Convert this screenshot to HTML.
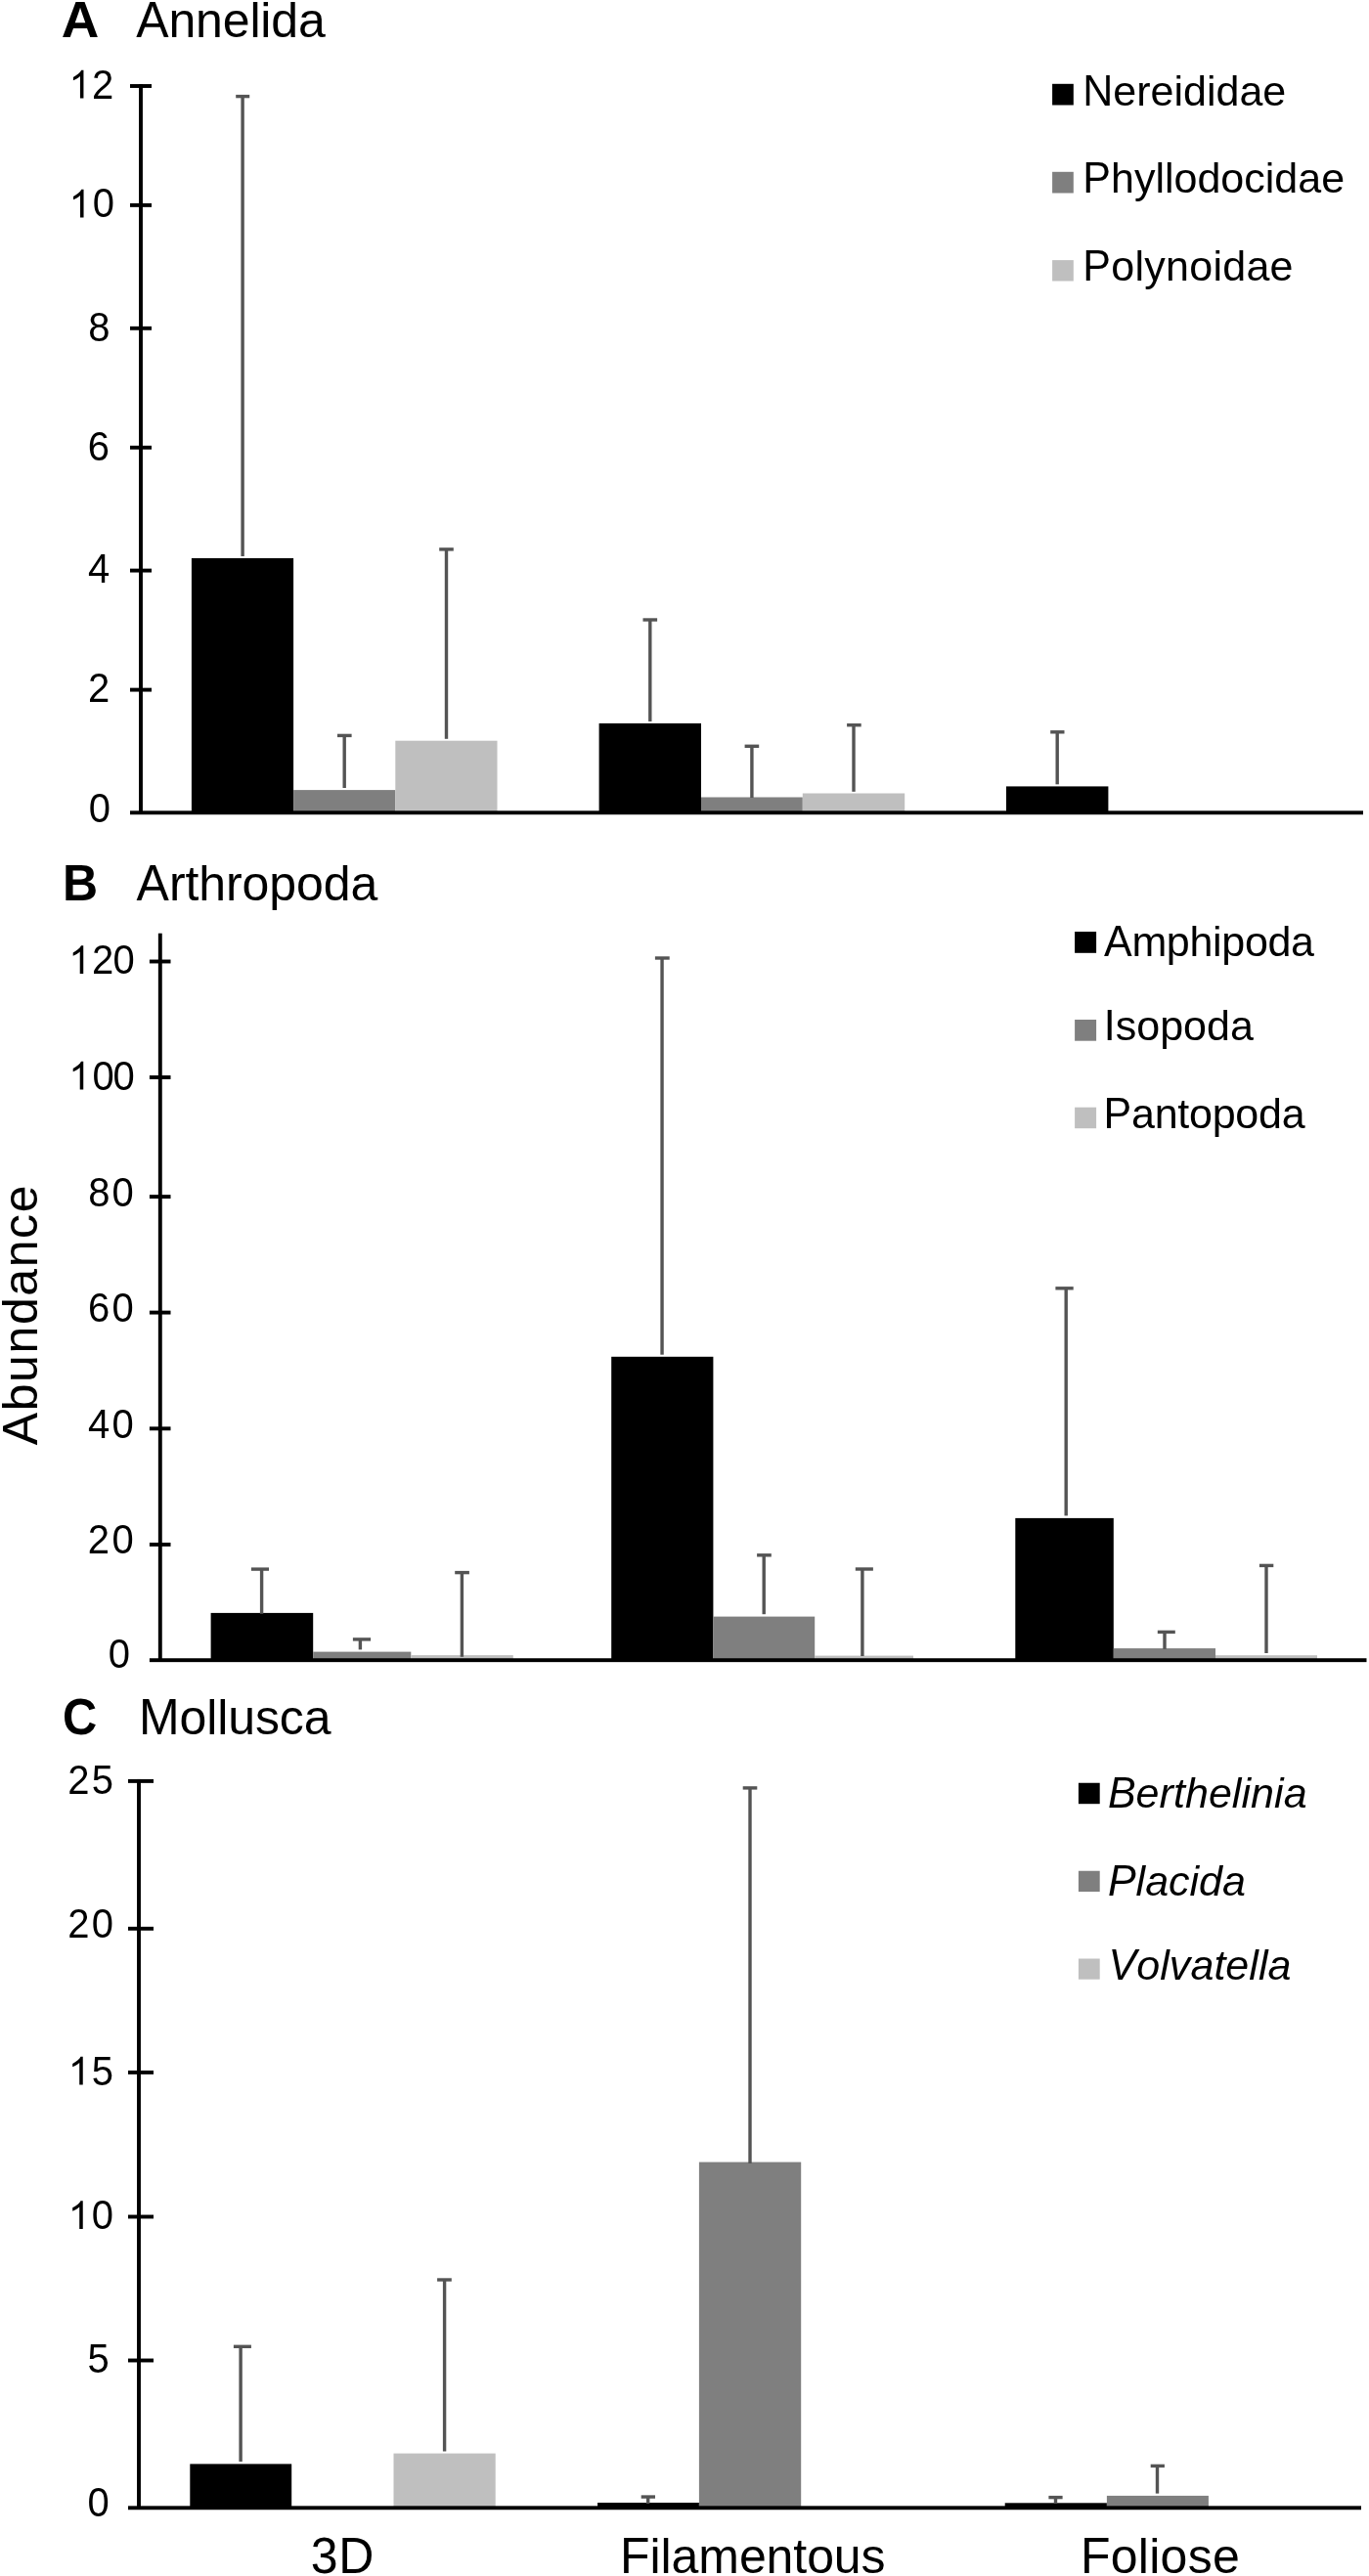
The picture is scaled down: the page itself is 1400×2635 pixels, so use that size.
<!DOCTYPE html>
<html><head><meta charset="utf-8"><title>Abundance by algal morphology</title>
<style>
html,body{margin:0;padding:0;background:#fff;}
body{width:1400px;height:2635px;overflow:hidden;}
svg{display:block;will-change:transform;transform:translateZ(0);}
text{font-family:"Liberation Sans",sans-serif;fill:#000;font-kerning:none;}
</style></head><body>
<svg width="1400" height="2635" viewBox="0 0 1400 2635">
<rect x="0" y="0" width="1400" height="2635" fill="#fff"/>
<text transform="translate(62.87,38.40) scale(1.0672,1.0400)" font-size="50" font-weight="bold">A</text>
<text transform="translate(139.30,38.40) scale(1,1.04)" font-size="50">A</text>
<text x="172.48" y="38.40" font-size="50" letter-spacing="-0.172">nnelida</text>
<rect x="195.90" y="571.00" width="104.20" height="260.30" fill="#000"/>
<rect x="300.10" y="808.10" width="104.20" height="23.20" fill="#7f7f7f"/>
<rect x="404.30" y="757.70" width="104.20" height="73.60" fill="#bfbfbf"/>
<rect x="612.60" y="739.90" width="104.40" height="91.40" fill="#000"/>
<rect x="717.00" y="815.50" width="103.80" height="15.80" fill="#7f7f7f"/>
<rect x="820.80" y="811.50" width="104.40" height="19.80" fill="#bfbfbf"/>
<rect x="1029.00" y="804.40" width="104.40" height="26.90" fill="#000"/>
<rect x="246.40" y="98.60" width="3.40" height="470.40" fill="#545454"/>
<rect x="241.20" y="96.90" width="14.00" height="3.40" fill="#545454"/>
<rect x="350.50" y="752.40" width="3.40" height="53.60" fill="#545454"/>
<rect x="345.00" y="750.70" width="14.60" height="3.40" fill="#545454"/>
<rect x="454.80" y="561.90" width="3.40" height="193.90" fill="#545454"/>
<rect x="449.20" y="560.20" width="14.60" height="3.40" fill="#545454"/>
<rect x="663.10" y="634.00" width="3.40" height="104.00" fill="#545454"/>
<rect x="657.50" y="632.30" width="14.60" height="3.40" fill="#545454"/>
<rect x="767.20" y="763.30" width="3.40" height="52.70" fill="#545454"/>
<rect x="761.60" y="761.60" width="14.60" height="3.40" fill="#545454"/>
<rect x="871.30" y="741.70" width="3.40" height="68.10" fill="#545454"/>
<rect x="866.10" y="740.00" width="14.60" height="3.40" fill="#545454"/>
<rect x="1079.50" y="748.80" width="3.40" height="53.50" fill="#545454"/>
<rect x="1074.20" y="747.10" width="14.30" height="3.40" fill="#545454"/>
<rect x="142.05" y="86.05" width="3.90" height="745.25" fill="#000"/>
<rect x="133.00" y="86.05" width="22.00" height="3.90" fill="#000"/>
<rect x="133.00" y="207.95" width="22.00" height="3.90" fill="#000"/>
<rect x="133.00" y="333.85" width="22.00" height="3.90" fill="#000"/>
<rect x="133.00" y="455.85" width="22.00" height="3.90" fill="#000"/>
<rect x="133.00" y="581.65" width="22.00" height="3.90" fill="#000"/>
<rect x="133.00" y="703.65" width="22.00" height="3.90" fill="#000"/>
<rect x="133.00" y="829.35" width="1261.00" height="3.90" fill="#000"/>
<path transform="translate(70.54,100.50) scale(0.01953,-0.01953)" d="M763,0H583V1147Q518,1085 412.5,1023Q307,961 223,930V1104Q374,1175 487,1276Q600,1377 647,1472H763Z" fill="#000"/>
<text transform="translate(93.89,100.50) scale(1,1.04)" font-size="40">2</text>
<path transform="translate(70.64,222.45) scale(0.01953,-0.01953)" d="M763,0H583V1147Q518,1085 412.5,1023Q307,961 223,930V1104Q374,1175 487,1276Q600,1377 647,1472H763Z" fill="#000"/>
<text transform="translate(94.84,222.45) scale(1,1.04)" font-size="40">0</text>
<text transform="translate(90.16,348.60) scale(1,1.04)" font-size="40">8</text>
<text transform="translate(89.67,470.60) scale(1,1.04)" font-size="40">6</text>
<text transform="translate(90.08,596.10) scale(1,1.04)" font-size="40">4</text>
<text transform="translate(89.89,718.20) scale(1,1.04)" font-size="40">2</text>
<text transform="translate(90.84,840.50) scale(1,1.04)" font-size="40">0</text>
<rect x="1076.10" y="85.80" width="21.70" height="21.70" fill="#000"/>
<rect x="1076.10" y="175.80" width="21.70" height="21.70" fill="#7f7f7f"/>
<rect x="1076.10" y="266.10" width="21.70" height="21.40" fill="#bfbfbf"/>
<text transform="translate(1107.27,107.70) scale(1,1.04)" font-size="43">N</text>
<text x="1138.32" y="107.70" font-size="43" letter-spacing="-0.003">ereididae</text>
<text transform="translate(1107.27,197.40) scale(1,1.04)" font-size="43">P</text>
<text x="1135.96" y="197.40" font-size="43" letter-spacing="0.008">hyllodocidae</text>
<text transform="translate(1107.27,287.30) scale(1,1.04)" font-size="43">P</text>
<text x="1136.23" y="287.30" font-size="43" letter-spacing="0.274">olynoidae</text>
<text transform="translate(64.05,921.20) scale(1.0002,1.0400)" font-size="50" font-weight="bold">B</text>
<text transform="translate(139.60,921.30) scale(1,1.04)" font-size="50">A</text>
<text x="172.88" y="921.30" font-size="50" letter-spacing="-0.077">rthropoda</text>
<rect x="215.60" y="1649.90" width="104.60" height="48.30" fill="#000"/>
<rect x="320.20" y="1689.60" width="100.10" height="8.60" fill="#7f7f7f"/>
<rect x="420.30" y="1693.10" width="104.50" height="5.10" fill="#bfbfbf"/>
<rect x="625.20" y="1387.80" width="104.20" height="310.40" fill="#000"/>
<rect x="729.40" y="1653.60" width="103.80" height="44.60" fill="#7f7f7f"/>
<rect x="833.20" y="1693.60" width="100.80" height="4.60" fill="#bfbfbf"/>
<rect x="1038.30" y="1552.90" width="100.50" height="145.30" fill="#000"/>
<rect x="1138.80" y="1686.10" width="104.20" height="12.10" fill="#7f7f7f"/>
<rect x="1243.00" y="1693.20" width="104.00" height="5.00" fill="#bfbfbf"/>
<rect x="265.90" y="1605.10" width="3.40" height="45.70" fill="#545454"/>
<rect x="256.90" y="1603.40" width="18.10" height="3.40" fill="#545454"/>
<rect x="366.70" y="1676.90" width="3.40" height="10.50" fill="#545454"/>
<rect x="360.90" y="1675.20" width="18.20" height="3.40" fill="#545454"/>
<rect x="470.70" y="1608.60" width="3.40" height="86.20" fill="#545454"/>
<rect x="465.20" y="1606.90" width="14.70" height="3.40" fill="#545454"/>
<rect x="675.35" y="980.00" width="3.40" height="405.70" fill="#545454"/>
<rect x="669.90" y="978.30" width="14.80" height="3.40" fill="#545454"/>
<rect x="779.50" y="1590.80" width="3.40" height="60.40" fill="#545454"/>
<rect x="774.10" y="1589.10" width="14.70" height="3.40" fill="#545454"/>
<rect x="880.20" y="1605.00" width="3.40" height="89.00" fill="#545454"/>
<rect x="874.80" y="1603.30" width="18.10" height="3.40" fill="#545454"/>
<rect x="1088.50" y="1317.80" width="3.40" height="232.60" fill="#545454"/>
<rect x="1079.40" y="1316.10" width="18.30" height="3.40" fill="#545454"/>
<rect x="1189.30" y="1669.40" width="3.40" height="17.50" fill="#545454"/>
<rect x="1183.80" y="1667.70" width="18.00" height="3.40" fill="#545454"/>
<rect x="1293.30" y="1601.40" width="3.40" height="89.60" fill="#545454"/>
<rect x="1287.90" y="1599.70" width="14.40" height="3.40" fill="#545454"/>
<rect x="161.85" y="954.70" width="3.90" height="743.50" fill="#000"/>
<rect x="152.90" y="981.55" width="21.60" height="3.90" fill="#000"/>
<rect x="152.90" y="1100.05" width="21.60" height="3.90" fill="#000"/>
<rect x="152.90" y="1222.15" width="21.60" height="3.90" fill="#000"/>
<rect x="152.90" y="1340.65" width="21.60" height="3.90" fill="#000"/>
<rect x="152.90" y="1459.35" width="21.60" height="3.90" fill="#000"/>
<rect x="152.90" y="1577.95" width="21.60" height="3.90" fill="#000"/>
<rect x="152.90" y="1696.25" width="1244.60" height="3.90" fill="#000"/>
<path transform="translate(70.34,996.00) scale(0.01953,-0.01953)" d="M763,0H583V1147Q518,1085 412.5,1023Q307,961 223,930V1104Q374,1175 487,1276Q600,1377 647,1472H763Z" fill="#000"/>
<text transform="translate(93.89,996.00) scale(1,1.04)" font-size="40">2</text>
<text transform="translate(115.44,996.00) scale(1,1.04)" font-size="40">0</text>
<path transform="translate(70.34,1114.50) scale(0.01953,-0.01953)" d="M763,0H583V1147Q518,1085 412.5,1023Q307,961 223,930V1104Q374,1175 487,1276Q600,1377 647,1472H763Z" fill="#000"/>
<text transform="translate(94.44,1114.50) scale(1,1.04)" font-size="40">0</text>
<text transform="translate(115.44,1114.50) scale(1,1.04)" font-size="40">0</text>
<text transform="translate(90.36,1233.50) scale(1,1.04)" font-size="40">8</text>
<text transform="translate(114.54,1233.50) scale(1,1.04)" font-size="40">0</text>
<text transform="translate(89.97,1351.80) scale(1,1.04)" font-size="40">6</text>
<text transform="translate(114.54,1351.80) scale(1,1.04)" font-size="40">0</text>
<text transform="translate(89.98,1470.50) scale(1,1.04)" font-size="40">4</text>
<text transform="translate(114.54,1470.50) scale(1,1.04)" font-size="40">0</text>
<text transform="translate(89.79,1588.90) scale(1,1.04)" font-size="40">2</text>
<text transform="translate(114.54,1588.90) scale(1,1.04)" font-size="40">0</text>
<text transform="translate(110.64,1706.40) scale(1,1.04)" font-size="40">0</text>
<rect x="1099.10" y="953.00" width="22.00" height="21.80" fill="#000"/>
<rect x="1099.10" y="1043.00" width="22.00" height="21.70" fill="#7f7f7f"/>
<rect x="1099.10" y="1132.70" width="22.00" height="21.50" fill="#bfbfbf"/>
<text transform="translate(1129.02,978.20) scale(1,1.04)" font-size="43">A</text>
<text x="1157.38" y="978.20" font-size="43" letter-spacing="-0.320">mphipoda</text>
<text transform="translate(1128.73,1064.45) scale(1,1.04)" font-size="43">I</text>
<text x="1140.70" y="1064.45" font-size="43" letter-spacing="0.025">sopoda</text>
<text transform="translate(1128.57,1154.35) scale(1,1.04)" font-size="43">P</text>
<text x="1157.00" y="1154.35" font-size="43" letter-spacing="-0.250">antopoda</text>
<text transform="translate(64.10,1773.80) scale(0.9758,1.0400)" font-size="50" font-weight="bold">C</text>
<text transform="translate(141.90,1773.80) scale(1,1.04)" font-size="50">M</text>
<text x="183.45" y="1773.80" font-size="50" letter-spacing="-0.098">ollusca</text>
<rect x="194.30" y="2520.40" width="103.90" height="44.90" fill="#000"/>
<rect x="402.50" y="2509.60" width="104.20" height="55.70" fill="#bfbfbf"/>
<rect x="611.10" y="2560.00" width="103.80" height="5.30" fill="#000"/>
<rect x="714.90" y="2211.60" width="104.30" height="353.70" fill="#7f7f7f"/>
<rect x="1027.70" y="2560.30" width="104.20" height="5.00" fill="#000"/>
<rect x="1131.90" y="2552.90" width="104.00" height="12.40" fill="#7f7f7f"/>
<rect x="244.40" y="2400.30" width="3.40" height="117.70" fill="#545454"/>
<rect x="238.90" y="2398.60" width="18.00" height="3.40" fill="#545454"/>
<rect x="452.90" y="2332.00" width="3.40" height="175.50" fill="#545454"/>
<rect x="447.10" y="2330.30" width="14.70" height="3.40" fill="#545454"/>
<rect x="661.00" y="2554.05" width="3.40" height="6.95" fill="#545454"/>
<rect x="655.70" y="2552.35" width="14.30" height="3.40" fill="#545454"/>
<rect x="765.30" y="1828.90" width="3.40" height="384.10" fill="#545454"/>
<rect x="759.70" y="1827.20" width="14.60" height="3.40" fill="#545454"/>
<rect x="1077.80" y="2554.60" width="3.40" height="6.40" fill="#545454"/>
<rect x="1072.40" y="2552.90" width="14.20" height="3.40" fill="#545454"/>
<rect x="1181.80" y="2522.40" width="3.40" height="28.20" fill="#545454"/>
<rect x="1176.70" y="2520.70" width="14.20" height="3.40" fill="#545454"/>
<rect x="140.05" y="1819.95" width="3.90" height="745.35" fill="#000"/>
<rect x="131.00" y="1819.95" width="26.00" height="3.90" fill="#000"/>
<rect x="131.00" y="1970.85" width="26.00" height="3.90" fill="#000"/>
<rect x="131.00" y="2117.95" width="26.00" height="3.90" fill="#000"/>
<rect x="131.00" y="2265.55" width="26.00" height="3.90" fill="#000"/>
<rect x="131.00" y="2412.55" width="26.00" height="3.90" fill="#000"/>
<rect x="131.00" y="2563.35" width="1261.00" height="3.90" fill="#000"/>
<text transform="translate(69.19,1834.50) scale(1,1.04)" font-size="40">2</text>
<text transform="translate(93.80,1834.50) scale(1,1.04)" font-size="40">5</text>
<text transform="translate(69.19,1981.70) scale(1,1.04)" font-size="40">2</text>
<text transform="translate(93.84,1981.70) scale(1,1.04)" font-size="40">0</text>
<path transform="translate(69.84,2132.50) scale(0.01953,-0.01953)" d="M763,0H583V1147Q518,1085 412.5,1023Q307,961 223,930V1104Q374,1175 487,1276Q600,1377 647,1472H763Z" fill="#000"/>
<text transform="translate(93.80,2132.50) scale(1,1.04)" font-size="40">5</text>
<path transform="translate(69.84,2279.90) scale(0.01953,-0.01953)" d="M763,0H583V1147Q518,1085 412.5,1023Q307,961 223,930V1104Q374,1175 487,1276Q600,1377 647,1472H763Z" fill="#000"/>
<text transform="translate(93.84,2279.90) scale(1,1.04)" font-size="40">0</text>
<text transform="translate(89.60,2427.20) scale(1,1.04)" font-size="40">5</text>
<text transform="translate(89.44,2574.40) scale(1,1.04)" font-size="40">0</text>
<rect x="1102.90" y="1823.75" width="21.80" height="21.45" fill="#000"/>
<rect x="1102.90" y="1913.75" width="21.80" height="21.25" fill="#7f7f7f"/>
<rect x="1102.90" y="2003.50" width="21.80" height="21.20" fill="#bfbfbf"/>
<text transform="translate(1132.88,1848.70) scale(1,1.04)" font-size="43" font-style="italic">B</text>
<text x="1161.61" y="1848.70" font-size="43" font-style="italic" letter-spacing="0.051">erthelinia</text>
<text transform="translate(1132.88,1938.60) scale(1,1.04)" font-size="43" font-style="italic">P</text>
<text x="1161.57" y="1938.60" font-size="43" font-style="italic" letter-spacing="0.010">lacida</text>
<text transform="translate(1133.58,2024.80) scale(1,1.04)" font-size="43" font-style="italic">V</text>
<text x="1162.31" y="2024.80" font-size="43" font-style="italic" letter-spacing="0.049">olvatella</text>
<text transform="translate(38.15,1478.2) rotate(-90)" x="-0.10" y="0" font-size="50" letter-spacing="1.602">Abundance</text>
<text transform="translate(317.80,2632.00) scale(1.0000,1.0400)" font-size="50" letter-spacing="0.681">3D</text>
<text transform="translate(634.10,2632.00) scale(1,1.04)" font-size="50">F</text>
<text x="664.56" y="2632.00" font-size="50" letter-spacing="-0.083">ilamentous</text>
<text transform="translate(1104.90,2632.00) scale(1,1.04)" font-size="50">F</text>
<text x="1135.71" y="2632.00" font-size="50" letter-spacing="0.274">oliose</text>
</svg>
</body></html>
